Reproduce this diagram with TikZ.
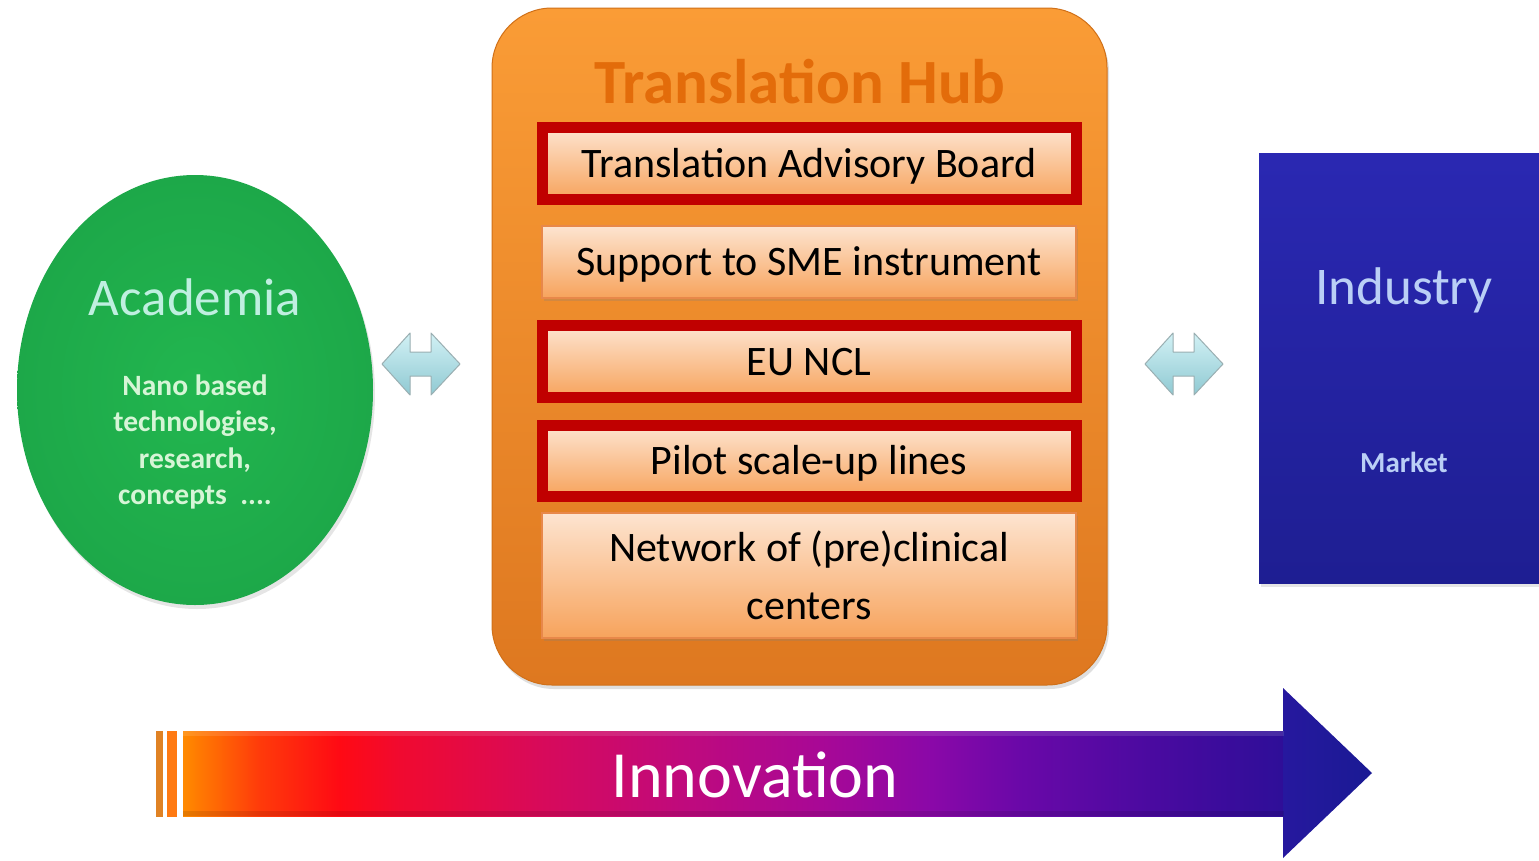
\documentclass[tikz,border=0pt]{standalone}
\usepackage{fontspec}
\setmainfont{Carlito}
\usetikzlibrary{shapes.geometric,shadows}
\definecolor{hubtop}{HTML}{FA9C36}
\definecolor{hubbot}{HTML}{DE7820}
\definecolor{hubline}{HTML}{D07018}
\definecolor{hubtitle}{HTML}{E36C0A}
\definecolor{boxred}{HTML}{C00000}
\definecolor{boxtop}{HTML}{FDE4D0}
\definecolor{boxbot}{HTML}{F7A35C}
\definecolor{boxline}{HTML}{E8884A}
\definecolor{acgreen}{HTML}{22B64F}
\definecolor{acedge}{HTML}{1DA849}
\definecolor{actitle}{HTML}{BFEFE0}
\definecolor{actext}{HTML}{D6F5D6}
\definecolor{indtop}{HTML}{2A28B2}
\definecolor{indbot}{HTML}{1E1E92}
\definecolor{indtext}{HTML}{BACFF6}
\definecolor{dartop}{HTML}{D2F1F5}
\definecolor{darbot}{HTML}{8FC9D2}
\definecolor{darline}{HTML}{9AAFB2}
\definecolor{stripeA}{HTML}{E08224}
\definecolor{stripeB}{HTML}{FF7A12}
\definecolor{headL}{HTML}{26189E}
\definecolor{headR}{HTML}{1A1A94}
\definecolor{ia}{HTML}{FF8A00}
\definecolor{ib}{HTML}{FF3A0A}
\definecolor{ic}{HTML}{FF0A14}
\definecolor{id}{HTML}{F00A30}
\definecolor{ie}{HTML}{D80A5A}
\definecolor{if}{HTML}{C00A7C}
\definecolor{ig}{HTML}{A80896}
\definecolor{ih}{HTML}{8A08A8}
\definecolor{ii}{HTML}{6A08A8}
\definecolor{ij}{HTML}{4A0AA0}
\definecolor{ik}{HTML}{2E0E98}
\pgfdeclarehorizontalshading{innov}{100bp}{%
  color(0bp)=(ia); color(25bp)=(ia); color(28.5bp)=(ib); color(32.1bp)=(ic);
  color(34.9bp)=(id); color(41.2bp)=(ie); color(47.6bp)=(if); color(54bp)=(ig);
  color(59bp)=(ih); color(63bp)=(ii); color(69bp)=(ij); color(75bp)=(ik); color(100bp)=(ik)}
\tikzset{
  hub/.style={rectangle, rounded corners=60pt, draw=hubline, line width=1pt,
    top color=hubtop, bottom color=hubbot, minimum width=615pt, minimum height=677pt,
    drop shadow={opacity=0.25, shadow xshift=2pt, shadow yshift=-4pt}},
  itembox/.style={rectangle, top color=boxtop, bottom color=boxbot, minimum width=534pt,
    font=\fontsize{42}{58}\selectfont, align=center, text=black, inner sep=0pt},
  redbox/.style={itembox, draw=boxred, line width=11pt,
    drop shadow={opacity=0.25, shadow xshift=2pt, shadow yshift=-3pt}},
  plainbox/.style={itembox, draw=boxline, line width=1.5pt,
    drop shadow={opacity=0.25, shadow xshift=2pt, shadow yshift=-3pt}},
  oneline/.style={text height=27pt, text depth=0pt},
  dblarrow/.style={top color=dartop, bottom color=darbot, draw=darline, line width=1pt, line join=round},
}
\begin{document}
\begin{tikzpicture}[x=1pt,y=-1pt]
\useasboundingbox (0,0) rectangle (1539,860);
\fill[white] (0,0) rectangle (1539,860);

% Academia
\node[ellipse, minimum width=356pt, minimum height=430pt, inner color=acgreen, outer color=acedge,
  drop shadow={opacity=0.2, shadow xshift=2pt, shadow yshift=-4pt}] (acad) at (195,390) {};
\node[text=actitle, font=\fontsize{53}{60}\selectfont] (acadtitle) at (195,297) {Academia};
\node[text=actext, font=\bfseries\fontsize{29.5}{36.5}\selectfont, align=center] (acadsub) at (195,442)
  {Nano based\\technologies,\\research,\\concepts \ ....};

% Industry
\node[rectangle, minimum width=280pt, minimum height=430pt, top color=indtop, bottom color=indbot,
  drop shadow={opacity=0.2, shadow xshift=2pt, shadow yshift=-4pt}] (ind) at (1399,368) {};
\node[text=indtext, font=\fontsize{53}{60}\selectfont] (indtitle) at (1404,290) {Industry};
\node[text=indtext, font=\bfseries\fontsize{29}{36}\selectfont] (market) at (1404,462) {Market};

% Hub
\node[hub] (hub) at (799.5,346.5) {};
\node[text=hubtitle, font=\bfseries\fontsize{63}{70}\selectfont] (hubtitle) at (800,82) {Translation Hub};
\node[redbox, oneline, minimum height=72pt] (tab) at (809,163.5) {Translation Advisory Board};
\node[plainbox, oneline, minimum height=72pt] (sme) at (809,262) {Support to SME instrument};
\node[redbox, oneline, minimum height=72pt] (ncl) at (809,361.5) {EU NCL};
\node[redbox, oneline, minimum height=71pt] (pilot) at (809,461) {Pilot scale-up lines};
\node[plainbox, minimum height=125pt] (net) at (809,575.5) {Network of (pre)clinical\\centers};

% double arrows
\coordinate (dl) at (421,364);
\coordinate (dr) at (1184,364);
\foreach \c in {dl,dr}{
  \draw[dblarrow] ([xshift=-39pt]\c) -- ([xshift=-11pt,yshift=31pt]\c) -- ([xshift=-11pt,yshift=12pt]\c)
    -- ([xshift=10pt,yshift=12pt]\c) -- ([xshift=10pt,yshift=31pt]\c) -- ([xshift=39pt]\c)
    -- ([xshift=10pt,yshift=-31pt]\c) -- ([xshift=10pt,yshift=-12pt]\c) -- ([xshift=-11pt,yshift=-12pt]\c)
    -- ([xshift=-11pt,yshift=-31pt]\c) -- cycle;
}

% Innovation arrow
\fill[stripeA] (156,731) rectangle (163,817);
\fill[stripeB] (167,731) rectangle (177,817);
\shade[shading=innov] (183,731) rectangle (1284,816);
\shade[left color=headL, right color=headR] (1283,688) -- (1372,773) -- (1283,858) -- cycle;
\fill[white, opacity=0.12] (183,731) rectangle (1284,736);
\fill[black, opacity=0.10] (183,811) rectangle (1284,816);
\node[text=white, font=\fontsize{66}{70}\selectfont] (innov) at (755,775) {Innovation};
\end{tikzpicture}
\end{document}
